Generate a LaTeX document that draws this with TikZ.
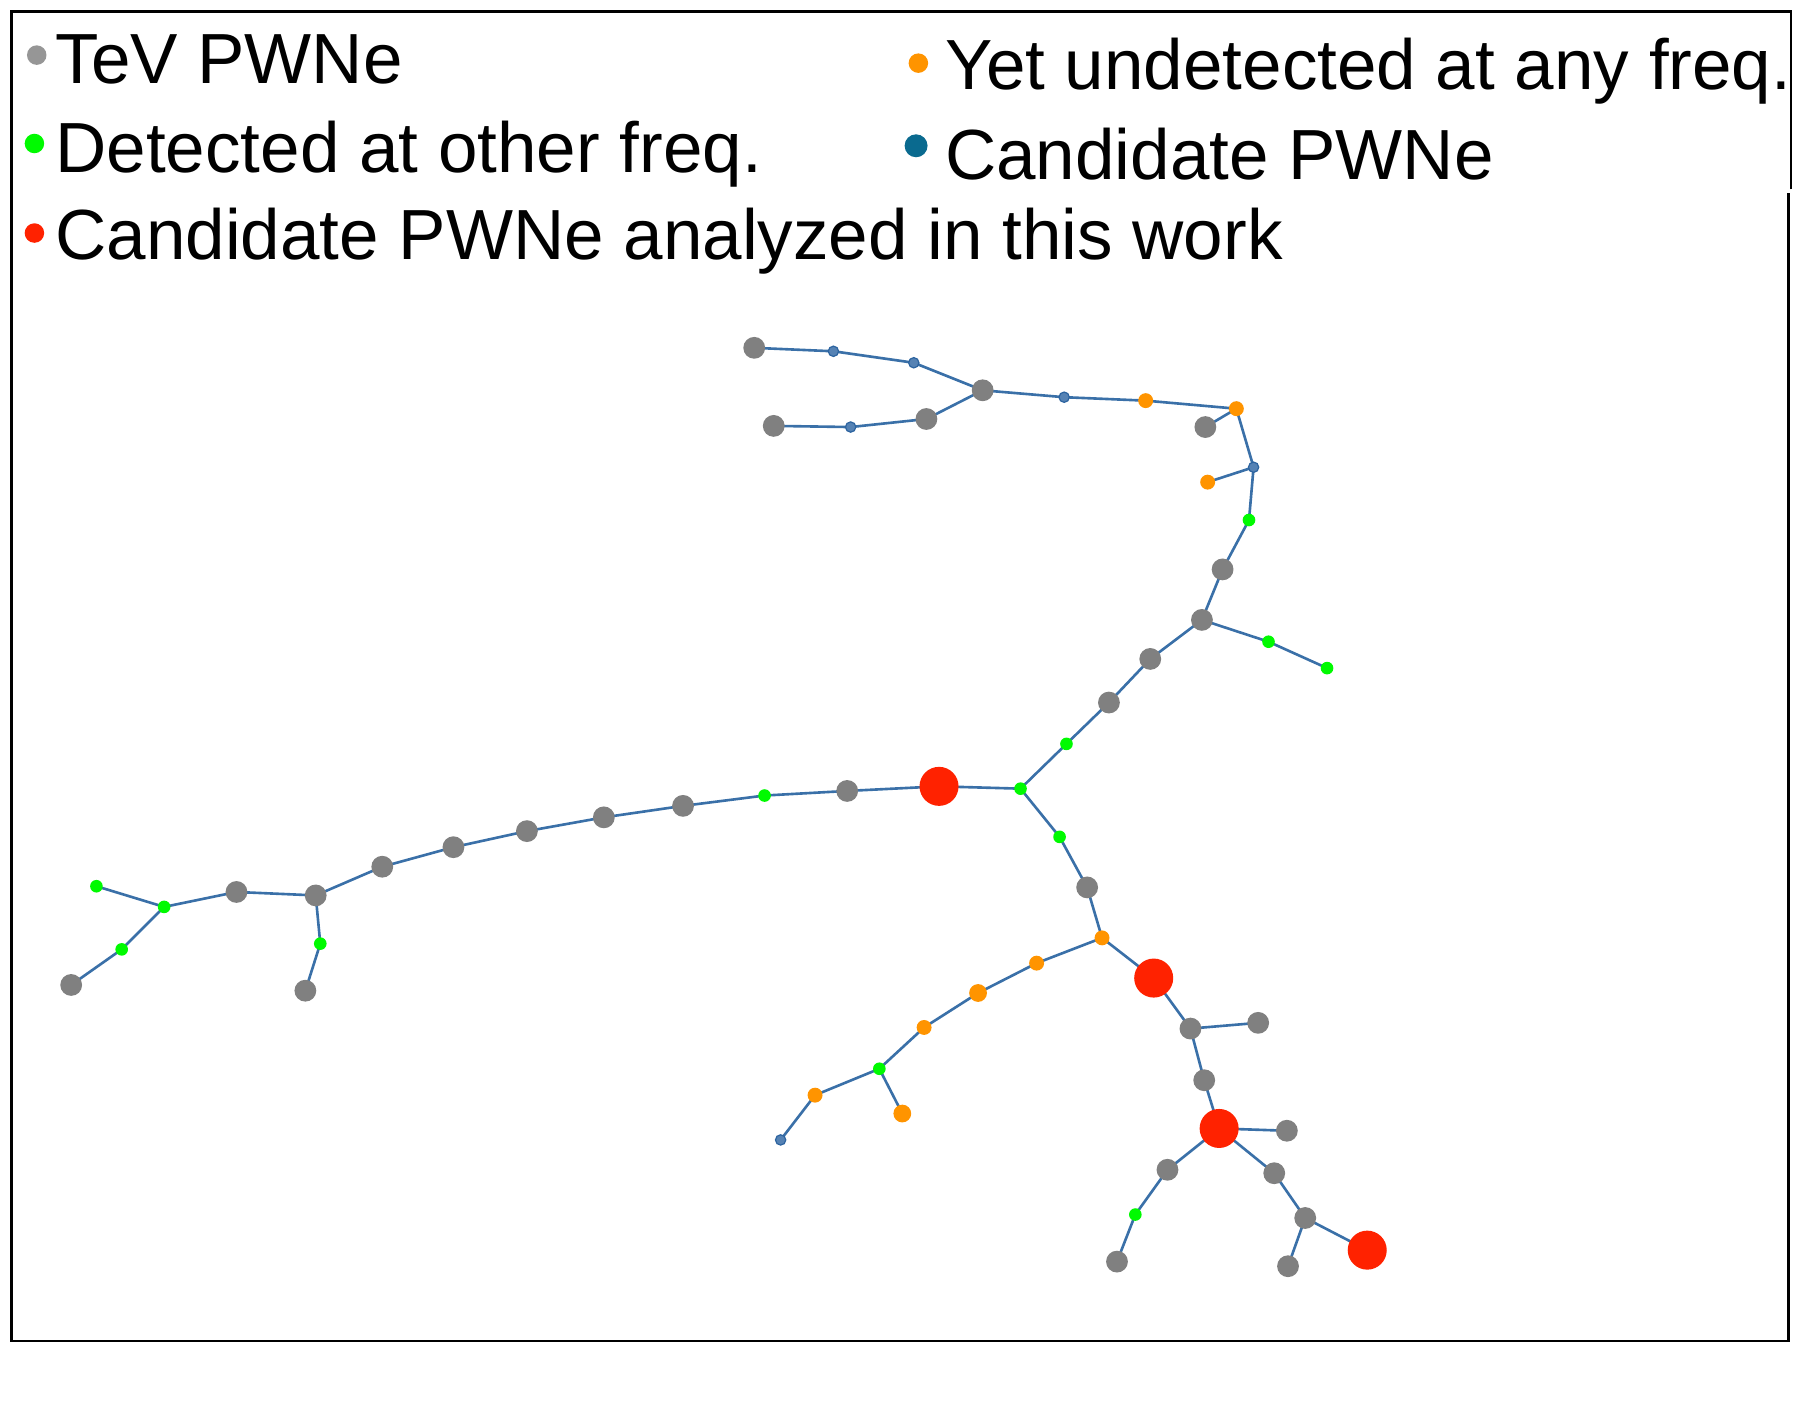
\documentclass[tikz,border=0pt]{standalone}
\usepackage{fontspec}
\setmainfont{Liberation Sans}
\usetikzlibrary{backgrounds}
\definecolor{edgeblue}{RGB}{58,112,168}
\definecolor{nodeblue}{RGB}{85,130,180}
\definecolor{nodeblueborder}{RGB}{45,100,160}
\definecolor{legblue}{RGB}{10,106,143}
\definecolor{pgray}{RGB}{128,128,128}
\definecolor{lgray}{RGB}{150,150,150}
\definecolor{pgreen}{RGB}{0,250,0}
\definecolor{porange}{RGB}{255,148,0}
\definecolor{pred}{RGB}{255,34,0}
\tikzset{
  dotbase/.style={circle, inner sep=0pt, outer sep=0pt},
  tev/.style={dotbase, fill=pgray, minimum size=0.38cm},
  cand/.style={dotbase, fill=pred, minimum size=0.68cm},
  det/.style={dotbase, fill=pgreen, minimum size=0.22cm},
  und/.style={dotbase, fill=porange, minimum size=0.26cm},
  undbig/.style={dotbase, fill=porange, minimum size=0.31cm},
  cpw/.style={dotbase, fill=nodeblue, draw=nodeblueborder, line width=0.6pt, minimum size=0.18cm},
  link/.style={draw=edgeblue, line width=1.3pt},
  legtext/.style={anchor=base west, inner sep=0pt, font=\fontsize{35.2}{42}\selectfont},
  legdot/.style={dotbase, minimum size=0.34cm}
}
\begin{document}
\begin{tikzpicture}[x=0.02cm, y=-0.02cm]
\useasboundingbox (0,0) rectangle (1568,1220);
% frame
\draw[line width=1.3pt] (1560,165) -- (1560,10) -- (10,10) -- (10,1168) -- (1558,1168) -- (1558,168);

% legend
\node[legdot, fill=lgray] (lg1) at (32,48) {};
\node[legtext] (lt1) at (48,73) {TeV PWNe};
\node[legdot, fill=pgreen] (lg2) at (30,125) {};
\node[legtext] (lt2) at (48,150) {Detected at other freq.};
\node[legdot, fill=pred] (lg3) at (30,203) {};
\node[legtext] (lt3) at (48,226) {Candidate PWNe analyzed in this work};
\node[legdot, fill=porange] (lg4) at (800,55) {};
\node[legtext] (lt4) at (823,78) {Yet undetected at any freq.};
\node[legdot, fill=legblue, minimum size=0.4cm] (lg5) at (798,127) {};
\node[legtext] (lt5) at (823,156) {Candidate PWNe};

% nodes
\node[tev] (g1) at (657,303) {};
\node[cpw] (b1) at (726,306) {};
\node[cpw] (b2) at (796,316) {};
\node[tev] (g2) at (856,340) {};
\node[tev] (g3) at (674,371) {};
\node[cpw] (b3) at (741,372) {};
\node[tev] (g4) at (807,365) {};
\node[cpw] (b4) at (927,346) {};
\node[und] (o1) at (998,349) {};
\node[und] (o2) at (1077,356) {};
\node[tev] (g5) at (1050,372) {};
\node[cpw] (b5) at (1092,407) {};
\node[und] (o3) at (1052,420) {};
\node[det] (gr1) at (1088,453) {};
\node[tev] (g6) at (1065,496) {};
\node[tev] (g7) at (1047,540) {};
\node[det] (gr2) at (1105,559) {};
\node[det] (gr3) at (1156,582) {};
\node[tev] (g8) at (1002,574) {};
\node[tev] (g9) at (966,612) {};
\node[det] (gr4) at (929,648) {};
\node[det] (gr5) at (889,687) {};
\node[cand] (r1) at (818,685) {};
\node[tev] (g10) at (738,689) {};
\node[det] (gr6) at (666,693) {};
\node[tev] (g11) at (595,702) {};
\node[tev] (g12) at (526,712) {};
\node[tev] (g13) at (459,724) {};
\node[tev] (g14) at (395,738) {};
\node[tev] (g15) at (333,755) {};
\node[tev] (g16) at (275,780) {};
\node[det] (gr7) at (279,822) {};
\node[tev] (g17) at (266,863) {};
\node[tev] (g18) at (206,777) {};
\node[det] (gr8) at (143,790) {};
\node[det] (gr9) at (84,772) {};
\node[det] (gr10) at (106,827) {};
\node[tev] (g19) at (62,858) {};
\node[det] (gr11) at (923,729) {};
\node[tev] (g20) at (947,773) {};
\node[und] (o4) at (960,817) {};
\node[cand] (r2) at (1005,852) {};
\node[und] (o5) at (903,839) {};
\node[undbig] (o6) at (852,865) {};
\node[und] (o7) at (805,895) {};
\node[det] (gr12) at (766,931) {};
\node[undbig] (o8) at (786,970) {};
\node[und] (o9) at (710,954) {};
\node[cpw] (b6) at (680,993) {};
\node[tev] (g21) at (1037,896) {};
\node[tev] (g22) at (1096,891) {};
\node[tev] (g23) at (1049,941) {};
\node[cand] (r3) at (1062,983) {};
\node[tev] (g24) at (1121,985) {};
\node[tev] (g25) at (1017,1019) {};
\node[det] (gr13) at (989,1058) {};
\node[tev] (g26) at (973,1099) {};
\node[tev] (g27) at (1110,1022) {};
\node[tev] (g28) at (1137,1061) {};
\node[tev] (g29) at (1122,1103) {};
\node[cand] (r4) at (1191,1089) {};

\begin{pgfonlayer}{background}
\foreach \a/\b in {g1/b1, b1/b2, b2/g2, g3/b3, b3/g4, g4/g2, g2/b4, b4/o1, o1/o2,
  o2/g5, o2/b5, b5/o3, b5/gr1, gr1/g6, g6/g7, g7/gr2, gr2/gr3, g7/g8, g8/g9,
  g9/gr4, gr4/gr5, gr5/r1, r1/g10, g10/gr6, gr6/g11, g11/g12, g12/g13, g13/g14,
  g14/g15, g15/g16, g16/gr7, gr7/g17, g16/g18, g18/gr8, gr8/gr9, gr8/gr10,
  gr10/g19, gr5/gr11, gr11/g20, g20/o4, o4/r2, o4/o5, o5/o6, o6/o7, o7/gr12,
  gr12/o8, gr12/o9, o9/b6, r2/g21, g21/g22, g21/g23, g23/r3, r3/g24, r3/g25,
  g25/gr13, gr13/g26, r3/g27, g27/g28, g28/g29, g28/r4}
  {\path[link] (\a.center) -- (\b.center);}
\end{pgfonlayer}
\end{tikzpicture}
\end{document}
